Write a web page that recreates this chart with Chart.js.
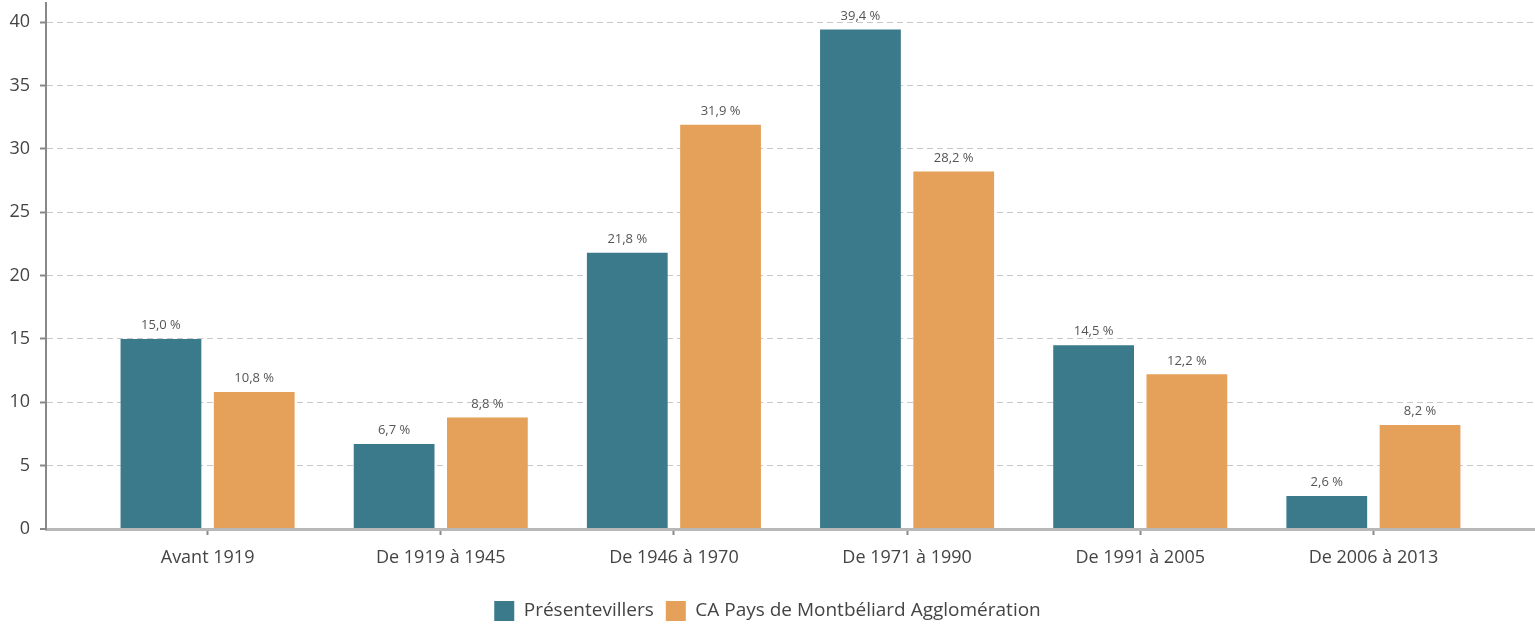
<!DOCTYPE html>
<html>
<head>
<meta charset="utf-8">
<script src="https://cdn.jsdelivr.net/npm/chart.js@4/dist/chart.umd.min.js"></script>
<style>
  html, body { margin: 0; padding: 0; background: #fff; }
  #wrap { width: 1535px; height: 624px; }
</style>
</head>
<body>
<div id="wrap"><canvas id="chart"></canvas></div>
<script>
// catégories et valeurs (%)
const categories = ['Avant 1919', 'De 1919 à 1945', 'De 1946 à 1970', 'De 1971 à 1990', 'De 1991 à 2005', 'De 2006 à 2013'];
const presentevillers = [15.0, 6.7, 21.8, 39.4, 14.5, 2.6];
const caPMA = [10.8, 8.8, 31.9, 28.2, 12.2, 8.2];
const yTicks = [0, 5, 10, 15, 20, 25, 30, 35, 40];

const FONT = "'Open Sans', 'Noto Sans', sans-serif";

// étiquettes au-dessus des barres
const valueLabels = {
  id: 'valueLabels',
  afterDatasetsDraw(chart) {
    const ctx = chart.ctx;
    ctx.save();
    ctx.font = '13px ' + FONT;
    ctx.fillStyle = '#555';
    ctx.textAlign = 'center';
    ctx.textBaseline = 'bottom';
    chart.data.datasets.forEach(function(ds, di) {
      chart.getDatasetMeta(di).data.forEach(function(bar, i) {
        const txt = ds.data[i].y.toFixed(1).replace('.', ',') + ' %';
        ctx.fillText(txt, bar.x, bar.y - 7);
      });
    });
    ctx.restore();
  }
};

const toPoints = arr => arr.map((v, i) => ({ x: i, y: v }));

new Chart(document.getElementById('chart'), {
  type: 'bar',
  data: {
    datasets: [
      { label: 'Présentevillers', data: toPoints(presentevillers), backgroundColor: '#3a7a8b' },
      { label: 'CA Pays de Montbéliard Agglomération', data: toPoints(caPMA), backgroundColor: '#e5a05a' }
    ]
  },
  options: {
    responsive: true,
    maintainAspectRatio: false,
    animation: false,
    barPercentage: 0.866,
    categoryPercentage: 0.80,
    layout: { padding: { left: 0, right: 0, top: 3, bottom: -7 } },
    plugins: {
      tooltip: { enabled: false },
      legend: {
        position: 'bottom',
        labels: {
          boxWidth: 20,
          boxHeight: 20,
          padding: 12,
          color: '#444',
          font: { family: FONT, size: 19 }
        }
      }
    },
    scales: {
      x: {
        type: 'linear',
        offset: false,
        min: -0.693,
        max: 5.693,
        afterBuildTicks: function(s) {
          s.ticks = categories.map((c, i) => ({ value: i }));
        },
        afterFit: function(s) { s.height = 60; },
        ticks: {
          autoSkip: false,
          maxRotation: 0,
          padding: 12,
          color: '#444',
          font: { family: FONT, size: 18 },
          callback: function(v) { return categories[v]; }
        },
        grid: {
          offset: false,
          drawOnChartArea: false,
          drawTicks: true,
          tickLength: 6,
          tickColor: '#888',
          tickWidth: 2
        },
        border: { display: true, color: '#b8b8b8', width: 3 }
      },
      y: {
        min: 0,
        max: 41.5,
        afterBuildTicks: function(s) {
          s.ticks = yTicks.map(v => ({ value: v }));
        },
        afterFit: function(s) {
          s.width = 46;
          s.paddingTop = 0;
          s.paddingBottom = 0;
        },
        ticks: {
          padding: 10,
          color: '#444',
          font: { family: FONT, size: 18 }
        },
        grid: {
          color: ctx => ctx.tick && ctx.tick.value === 0 ? '#888' : '#c8c8c8',
          lineWidth: ctx => ctx.tick && ctx.tick.value === 0 ? 2 : 1,
          tickLength: 6,
          tickColor: '#888',
          tickWidth: 2,
          tickBorderDash: []
        },
        border: { display: true, color: '#888', width: 2, dash: [6, 4] }
      }
    }
  },
  plugins: [valueLabels]
});
</script>
</body>
</html>
